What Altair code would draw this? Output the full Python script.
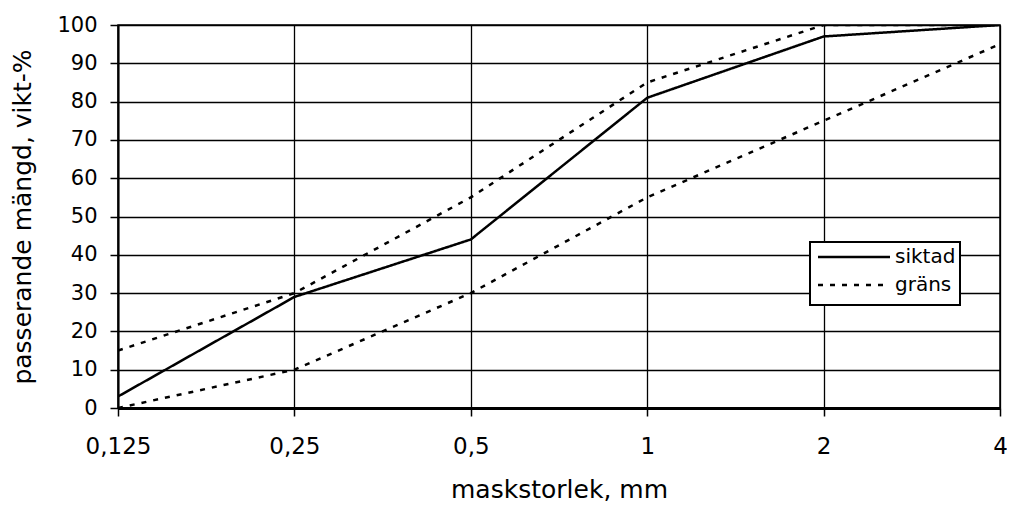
import altair as alt
import pandas as pd

sizes = [0.125, 0.25, 0.5, 1, 2, 4]
siktad = [3, 29, 44, 81, 97, 100]
grans_upper = [15, 30, 55, 85, 100, 100]
grans_lower = [0, 10, 30, 55, 75, 95]
legend_labels = ["siktad", "gräns"]

rows = []
for s, v in zip(sizes, siktad):
    rows.append({"size": s, "value": v, "typ": "siktad", "serie": "siktad"})
for s, v in zip(sizes, grans_upper):
    rows.append({"size": s, "value": v, "typ": "gräns", "serie": "övre"})
for s, v in zip(sizes, grans_lower):
    rows.append({"size": s, "value": v, "typ": "gräns", "serie": "undre"})
df = pd.DataFrame(rows)

FONT = "DejaVu Sans"
DASH_SCALE = alt.Scale(domain=legend_labels, range=[[1, 0], [5, 7]])

lines = alt.Chart(df).mark_line(color="black", strokeWidth=2.5, clip=True).encode(
    x=alt.X("size:Q",
            scale=alt.Scale(type="log", base=2, domain=[0.125, 4], nice=False),
            axis=alt.Axis(values=sizes, title="maskstorlek, mm",
                          labelExpr="replace(toString(datum.value), '.', ',')",
                          labelFlush=False, labelFontSize=23,
                          tickSize=8, labelPadding=19, titlePadding=19)),
    y=alt.Y("value:Q", scale=alt.Scale(domain=[0, 100], nice=False),
            axis=alt.Axis(values=list(range(0, 101, 10)), title="passerande mängd, vikt-%",
                          labelFontSize=21,
                          tickSize=8, labelPadding=13, titlePadding=21)),
    strokeDash=alt.StrokeDash("typ:N", scale=DASH_SCALE, legend=None),
    detail="serie:N",
)

# manual legend box
leg_box = alt.Chart(pd.DataFrame({"a": [0]})).mark_rect(
    fill="white", stroke="black", strokeWidth=2
).encode(x=alt.value(692), x2=alt.value(842), y=alt.value(217), y2=alt.value(280))

leg_df = pd.DataFrame({"typ": legend_labels, "ypos": [232, 260]})
leg_lines = alt.Chart(leg_df).mark_rule(color="black", strokeWidth=2.5).encode(
    x=alt.value(700), x2=alt.value(772),
    y=alt.Y("ypos:Q", scale=None),
    strokeDash=alt.StrokeDash("typ:N", scale=DASH_SCALE, legend=None),
)
leg_text = alt.Chart(leg_df).mark_text(
    align="left", baseline="middle", font=FONT, fontSize=20, color="black"
).encode(x=alt.value(777), y=alt.Y("ypos:Q", scale=None), text="typ:N")

chart = alt.layer(lines, leg_box, leg_lines, leg_text).properties(
    width=882, height=383,
    padding={"left": 110, "top": 17, "right": 7, "bottom": 98},
    autosize=alt.AutoSizeParams(type="none"),
    background="white",
).configure_view(
    stroke="black", strokeWidth=1.5
).configure_axis(
    domainColor="black", domainWidth=2, tickColor="black", tickWidth=1.5,
    gridColor="black", gridWidth=1.3, gridOpacity=1,
    labelFont=FONT, labelColor="black",
    titleFont=FONT, titleFontSize=25, titleColor="black", titleFontWeight="normal",
).configure_axisX(domainWidth=3)

chart.save("out.html", embed_options={"renderer": "svg", "actions": False})
